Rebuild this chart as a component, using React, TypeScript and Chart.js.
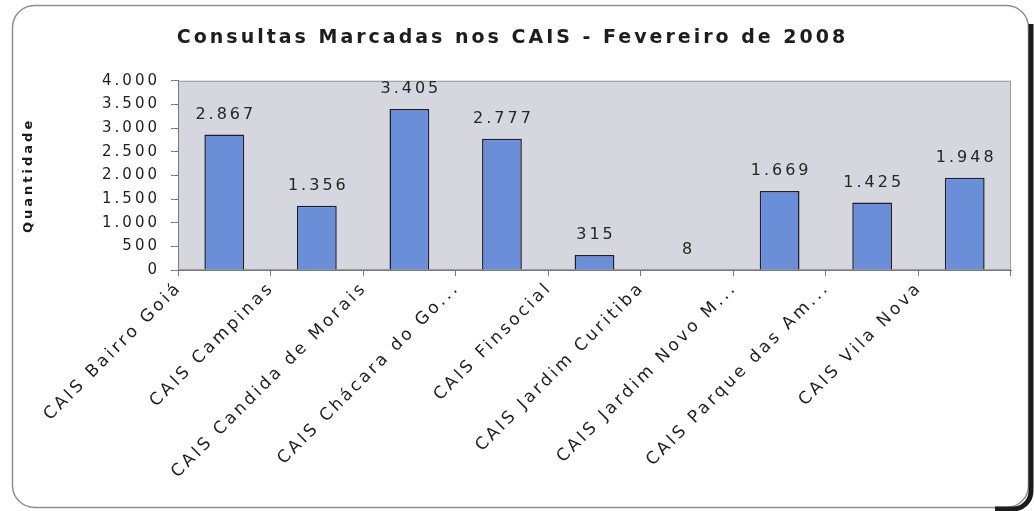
import React, { useEffect, useRef } from "react";
import { Chart, registerables } from "chart.js";

Chart.register(...registerables);

const chartTitle = "Consultas Marcadas nos CAIS - Fevereiro de 2008";
const yAxisTitle = "Quantidade";
const categories = [
  "CAIS Bairro Goiá",
  "CAIS Campinas",
  "CAIS Candida de Morais",
  "CAIS Chácara do Go...",
  "CAIS Finsocial",
  "CAIS Jardim Curitiba",
  "CAIS Jardim Novo M...",
  "CAIS Parque das Am...",
  "CAIS Vila Nova",
];
const consultas = [2867, 1356, 3405, 2777, 315, 8, 1669, 1425, 1948];
const yTickValues = [0, 500, 1000, 1500, 2000, 2500, 3000, 3500, 4000];

const FONT = '"DejaVu Sans", "Liberation Sans", Arial, sans-serif';
const SPACING = 3;

const fmt = (v: number) => String(v).replace(/\B(?=(\d{3})+(?!\d))/g, ".");

const framePlugin = {
  id: "frame",
  beforeUpdate(chart: any) {
    chart.ctx.letterSpacing = SPACING + "px";
  },
  beforeDraw(chart: any) {
    const ctx = chart.ctx as CanvasRenderingContext2D;
    const { width, height } = chart;
    ctx.save();
    ctx.fillStyle = "#ffffff";
    ctx.fillRect(0, 0, width, height);
    // outer rounded frame
    ctx.beginPath();
    (ctx as any).roundRect(12.5, 5.5, 1016, 502, 22);
    ctx.strokeStyle = "#8e8e8e";
    ctx.lineWidth = 1.5;
    ctx.stroke();
    // dark shadow on right/bottom edge
    ctx.beginPath();
    ctx.moveTo(1031, 24);
    ctx.lineTo(1031, 490);
    ctx.arcTo(1031, 509, 1012, 509, 18);
    ctx.lineTo(995, 509);
    ctx.lineWidth = 5;
    ctx.strokeStyle = "#1c1c1c";
    ctx.stroke();
    // plot area background
    const a = chart.chartArea;
    ctx.fillStyle = "#d6d6de";
    ctx.fillRect(a.left, a.top, a.right - a.left, a.bottom - a.top);
    ctx.strokeStyle = "#9a9aa0";
    ctx.lineWidth = 1;
    ctx.strokeRect(a.left + 0.5, a.top + 0.5, a.right - a.left - 1, a.bottom - a.top - 1);
    ctx.restore();
    ctx.letterSpacing = SPACING + "px";
  },
};

const valueLabelPlugin = {
  id: "valueLabels",
  afterDatasetsDraw(chart: any) {
    const ctx = chart.ctx as CanvasRenderingContext2D;
    const meta = chart.getDatasetMeta(0);
    ctx.save();
    (ctx as any).letterSpacing = SPACING + "px";
    ctx.font = `16px ${FONT}`;
    ctx.fillStyle = "#262626";
    ctx.textAlign = "center";
    ctx.textBaseline = "middle";
    meta.data.forEach((bar: any, i: number) => {
      ctx.fillText(fmt(consultas[i]), bar.x + SPACING / 2, bar.y - 20);
    });
    ctx.restore();
  },
};

export default function App() {
  const ref = useRef<HTMLCanvasElement | null>(null);

  useEffect(() => {
    document.body.style.margin = "0";
    const canvas = ref.current;
    if (!canvas) return;
    const chart = new Chart(canvas, {
      type: "bar",
      data: {
        labels: categories,
        datasets: [
          {
            label: "Consultas",
            data: consultas,
            backgroundColor: "#6a8ed8",
            borderColor: "#1e1e30",
            borderWidth: 1.5,
            categoryPercentage: 1,
            barPercentage: 0.43,
          },
        ],
      },
      options: {
        responsive: false,
        animation: false,
        layout: { padding: { left: 14, right: 23, top: 0, bottom: 0 } },
        plugins: {
          legend: { display: false },
          tooltip: { enabled: false },
          title: {
            display: true,
            text: chartTitle,
            color: "#1e1e1e",
            font: { family: FONT, size: 19, weight: "bold" },
            padding: { top: 27, bottom: 31 },
          },
        },
        scales: {
          x: {
            offset: true,
            afterFit: (s: any) => {
              s.height = 241;
            },
            grid: {
              display: true,
              drawOnChartArea: false,
              drawTicks: true,
              tickLength: 6,
              color: "#7a7a7a",
              offset: true,
            },
            border: { display: true, color: "#7a7a7a" },
            ticks: {
              autoSkip: false,
              minRotation: 45,
              maxRotation: 45,
              labelOffset: -45,
              padding: 2,
              color: "#1e1e1e",
              font: { family: FONT, size: 17 },
            },
          },
          y: {
            min: 0,
            max: 4000,
            afterFit: (s: any) => {
              s.width = 164;
            },
            afterBuildTicks: (s: any) => {
              s.ticks = yTickValues.map((v) => ({ value: v }));
            },
            grid: {
              display: true,
              drawOnChartArea: false,
              drawTicks: true,
              tickLength: 7,
              color: "#7a7a7a",
            },
            border: { display: true, color: "#7a7a7a" },
            ticks: {
              padding: 11,
              color: "#1e1e1e",
              font: { family: FONT, size: 15 },
              callback: (v: any) => fmt(Number(v)),
            },
            title: {
              display: true,
              text: yAxisTitle,
              color: "#1a1a1a",
              font: { family: FONT, size: 13, weight: "bold" },
              padding: { top: 7, bottom: 0 },
            },
          },
        },
      },
      plugins: [framePlugin, valueLabelPlugin],
    } as any);
    return () => chart.destroy();
  }, []);

  return (
    <div style={{ width: 1034, height: 511 }}>
      <canvas ref={ref} width={1034} height={511} style={{ width: "1034px", height: "511px", display: "block" }} />
    </div>
  );
}
